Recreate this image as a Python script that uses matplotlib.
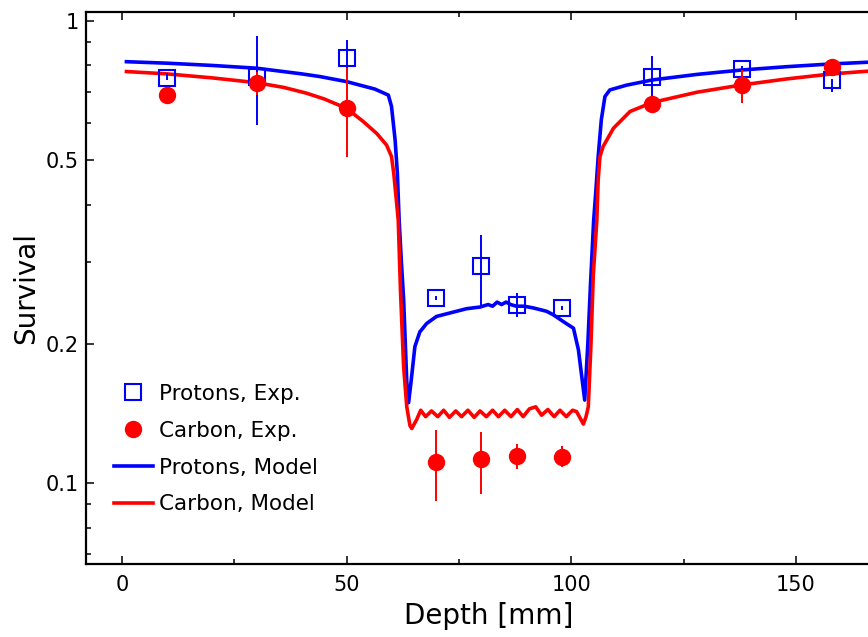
import numpy as np
import matplotlib
matplotlib.use('Agg')
import matplotlib.pyplot as plt
from matplotlib.ticker import FixedLocator, FixedFormatter, NullFormatter
from matplotlib.lines import Line2D

# %% Experimental points (depth in mm, survival fraction, lower/upper error)
depthExp = [10, 30, 50, 70, 80, 88, 98, 118, 138, 158]

protonExp = [0.751, 0.755, 0.829, 0.251, 0.294, 0.242, 0.239, 0.754, 0.786, 0.744]
protonLo = [0.745, 0.595, 0.76, 0.249, 0.240, 0.228, 0.237, 0.664, 0.776, 0.700]
protonHi = [0.770, 0.927, 0.908, 0.253, 0.344, 0.258, 0.241, 0.839, 0.796, 0.748]

carbonExp = [0.691, 0.734, 0.646, 0.111, 0.1126, 0.1142, 0.1137, 0.660, 0.726, 0.795]
carbonLo = [0.689, 0.690, 0.508, 0.0915, 0.0947, 0.107, 0.108, 0.631, 0.664, 0.793]
carbonHi = [0.693, 0.775, 0.790, 0.130, 0.129, 0.121, 0.120, 0.662, 0.782, 0.797]

# %% Model curves
depthProtonModel = [1, 10, 20, 30, 40, 44, 50, 56.3, 59.3, 60.0, 60.8, 61.3, 61.7, 62.2,
                    62.7, 63.4, 63.8, 64.4, 65.2, 66.3, 67.8, 70, 73, 76.7, 79.7, 81.5,
                    82.5, 83.5, 84.5, 85.5, 86.5, 87.8, 89.5, 91.5, 94.5, 96, 98.3,
                    100.5, 101.6, 103.0, 103.7, 104.3, 105.0, 105.5, 106.0, 106.7,
                    107.5, 108.6, 112.3, 118, 128, 138, 148, 158, 172]
protonModel = [0.815, 0.809, 0.800, 0.789, 0.767, 0.757, 0.738, 0.711, 0.690, 0.652,
               0.552, 0.468, 0.370, 0.300, 0.249, 0.165, 0.149, 0.167, 0.197, 0.212,
               0.221, 0.229, 0.233, 0.238, 0.240, 0.243, 0.241, 0.246, 0.243, 0.246,
               0.243, 0.241, 0.241, 0.239, 0.235, 0.231, 0.223, 0.216, 0.194, 0.151,
               0.200, 0.270, 0.370, 0.430, 0.508, 0.610, 0.685, 0.708, 0.725, 0.744,
               0.765, 0.782, 0.795, 0.806, 0.818]

depthCarbonModel = [1, 10, 20, 30, 36, 41, 45, 50, 53.7, 56.7, 58.9, 60.0, 60.5, 61.0,
                    61.5, 62.0, 62.7, 63.4, 64.1, 64.5, 65.6, 66.5, 67.6, 68.9, 70.3,
                    71.6, 72.9, 74.3, 75.6, 77.0, 78.4, 79.7, 81.1, 82.5, 83.8, 85.2,
                    86.6, 88.0, 89.3, 90.7, 92.1, 93.4, 94.8, 96.2, 97.5, 98.9, 100.3,
                    101.2, 102.7, 103.3, 103.8, 104.4, 104.9, 105.7, 106.0, 106.4,
                    107.1, 109.4, 113.1, 118, 128, 138, 148, 158, 172]
carbonModel = [0.776, 0.767, 0.752, 0.734, 0.717, 0.697, 0.677, 0.646, 0.605, 0.570,
               0.538, 0.508, 0.467, 0.416, 0.370, 0.260, 0.178, 0.146, 0.133, 0.131,
               0.137, 0.1435, 0.139, 0.143, 0.139, 0.1435, 0.1385, 0.143, 0.139,
               0.1435, 0.1385, 0.143, 0.139, 0.1435, 0.139, 0.1435, 0.139, 0.144,
               0.139, 0.1445, 0.146, 0.140, 0.144, 0.139, 0.1435, 0.139, 0.1435,
               0.1425, 0.134, 0.139, 0.146, 0.200, 0.280, 0.370, 0.452, 0.508, 0.534,
               0.585, 0.636, 0.665, 0.700, 0.726, 0.748, 0.767, 0.785]

yMajor = [0.1, 0.2, 0.5, 1.0]
yMajorLabels = ['0.1', '0.2', '0.5', '1']
yMinor = [0.07, 0.08, 0.09, 0.3, 0.4, 0.6, 0.7, 0.8, 0.9]

blue = (0.0, 0.0, 1.0)
red = (1.0, 0.0, 0.0)

# %% Figure
fig = plt.figure(figsize=(8.68, 6.37), dpi=100)
ax = fig.add_axes([86/868, 73/637, 806/868, 552/637])

ax.plot(depthProtonModel, protonModel, '-', color=blue, lw=2.6, zorder=2)
ax.plot(depthCarbonModel, carbonModel, '-', color=red, lw=2.6, zorder=3)

pErr = [np.array(protonExp) - np.array(protonLo), np.array(protonHi) - np.array(protonExp)]
cErr = [np.array(carbonExp) - np.array(carbonLo), np.array(carbonHi) - np.array(carbonExp)]
ax.errorbar(depthExp, protonExp, yerr=pErr, fmt='none', ecolor=blue, elinewidth=1.4,
            capsize=0, zorder=4)
ax.plot(depthExp, protonExp, 's', ms=11.5, mfc='none', mec=blue, mew=1.5, zorder=5)
ax.errorbar(depthExp, carbonExp, yerr=cErr, fmt='none', ecolor=red, elinewidth=1.4,
            capsize=0, zorder=6)
ax.plot(depthExp, carbonExp, 'o', ms=11.5, mfc=red, mec=red, zorder=7)

ax.set_yscale('log')
ax.set_xlim(-8, 171.4)
ax.set_ylim(0.0667, 1.044)

ax.yaxis.set_major_locator(FixedLocator(yMajor))
ax.yaxis.set_major_formatter(FixedFormatter(yMajorLabels))
ax.yaxis.set_minor_locator(FixedLocator(yMinor))
ax.yaxis.set_minor_formatter(NullFormatter())
ax.set_xticks([0, 50, 100, 150])
ax.set_xticks([25, 75, 125], minor=True)

ax.tick_params(which='both', direction='in', top=True, right=False, width=1.1)
ax.tick_params(which='major', length=6, labelsize=15)
ax.tick_params(which='minor', length=3.5)
ax.tick_params(axis='x', which='major', pad=8)
ax.tick_params(axis='y', which='major', pad=5)
for s in ['left', 'bottom', 'top']:
    ax.spines[s].set_linewidth(1.6)
ax.spines['right'].set_visible(False)

ax.set_xlabel('Depth [mm]', fontsize=20, labelpad=5)
ax.set_ylabel('Survival', fontsize=20, labelpad=4)

handles = [
    Line2D([], [], ls='none', marker='s', ms=11.5, mfc='none', mec=blue, mew=1.5),
    Line2D([], [], ls='none', marker='o', ms=11.5, mfc=red, mec=red),
    Line2D([], [], color=blue, lw=2.6),
    Line2D([], [], color=red, lw=2.6),
]
labels = ['Protons, Exp.', 'Carbon, Exp.', 'Protons, Model', 'Carbon, Model']
fig.legend(handles, labels, loc='upper left', bbox_to_anchor=(114/868, 1 - 384/637),
           frameon=False, fontsize=15.5, handlelength=1.8, handletextpad=0.3,
           labelspacing=0.78, borderpad=0, borderaxespad=0)

plt.savefig('out.png', dpi=100)
